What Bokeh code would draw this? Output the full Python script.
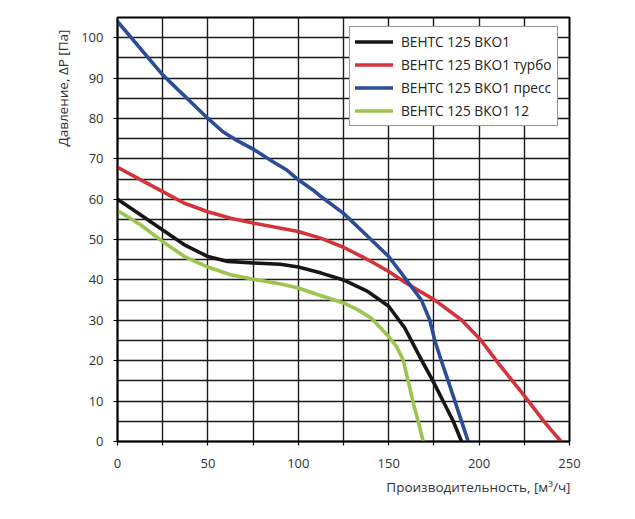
from bokeh.plotting import figure
from bokeh.models import (Range1d, SingleIntervalTicker, FixedTicker, Legend, LegendItem,
                          Title, LinearAxis)
from bokeh.embed import file_html
from bokeh.resources import INLINE

# data (flow m3/h, pressure Pa)
base_x = [0, 12.9, 25, 37, 50, 61, 75, 90, 100, 112.7, 125, 138.6, 150, 158.9, 168.1, 174.6, 180.2, 185.7, 190.3]
base_y = [60, 56.1, 52.4, 48.7, 45.8, 44.6, 44.2, 43.9, 43.2, 41.7, 40, 37.1, 33.5, 28.1, 20.2, 14.9, 9.9, 5.0, 0]

turbo_x = [0, 12.9, 25, 37, 50, 62.6, 75, 90.4, 100, 112.7, 125, 138.6, 150, 159.8, 175.5, 190.3, 200.8, 210.6, 225.4, 236.5, 245.3]
turbo_y = [67.9, 64.8, 61.9, 59, 56.9, 55.3, 54.1, 52.8, 52, 50.3, 48.1, 45, 42.1, 39.2, 35, 30.1, 25.2, 19.4, 11.1, 4.6, 0]

press_x = [0, 25, 50, 58.3, 65.5, 75, 86, 93.4, 100, 108.1, 112.7, 125, 138.6, 150, 157, 159.8, 168.1, 172.7, 175.5, 179.1, 182.9, 186.6, 190.3, 194]
press_y = [104, 90.8, 80, 76.7, 74.7, 72.4, 69.3, 67.3, 64.8, 62.3, 60.6, 56.5, 50.7, 45.8, 41.7, 40, 35, 30.1, 25, 20, 15, 10, 5, 0]

v12_x = [0, 12.9, 25, 37, 50, 62.6, 75, 90.4, 100, 112.7, 125, 133, 140.4, 150, 154.3, 158, 160.8, 163.6, 166.3, 169.1]
v12_y = [57.2, 53.6, 49.5, 45.8, 43.2, 41.3, 40.2, 39, 38, 36.1, 34.3, 32.6, 30.5, 26, 23.5, 20.2, 14.9, 9.5, 5.0, 0]

names = ["ВЕНТС 125 ВКО1", "ВЕНТС 125 ВКО1 турбо", "ВЕНТС 125 ВКО1 пресс", "ВЕНТС 125 ВКО1 12"]
colors = ["#161616", "#d5333a", "#2c4c97", "#9cc44e"]

x_ticks = [0, 25, 50, 75, 100, 125, 150, 175, 200, 225, 250]
x_labels = {0: "0", 25: "", 50: "50", 75: "", 100: "100", 125: "", 150: "150", 175: "", 200: "200", 225: "", 250: "250"}
y_ticks = [0, 10, 20, 30, 40, 50, 60, 70, 80, 90, 100]

FONT = "Open Sans"

p = figure(frame_width=452, frame_height=424, output_backend="svg", toolbar_location=None,
           x_range=Range1d(0, 250), y_range=Range1d(0, 105),
           min_border_left=117, min_border_top=17, min_border_right=40, min_border_bottom=70,
           x_axis_location=None, y_axis_location=None)
p.background_fill_color = "white"
p.border_fill_color = "white"
p.outline_line_color = "black"
p.outline_line_width = 2

xaxis = LinearAxis(ticker=FixedTicker(ticks=x_ticks), major_label_overrides=x_labels)
yaxis = LinearAxis(ticker=FixedTicker(ticks=y_ticks))
for ax in (xaxis, yaxis):
    ax.axis_line_color = "black"
    ax.axis_line_width = 1.5
    ax.major_tick_line_color = "black"
    ax.major_tick_line_width = 1.2
    ax.major_tick_in = 0
    ax.major_tick_out = 4
    ax.minor_tick_line_color = None
    ax.major_label_text_font = FONT
    ax.major_label_text_font_size = "13px"
    ax.major_label_text_color = "#333333"
xaxis.major_label_standoff = 13
yaxis.major_label_standoff = 10
p.add_layout(xaxis, "below")
p.add_layout(yaxis, "left")

p.xgrid.ticker = SingleIntervalTicker(interval=25)
p.ygrid.ticker = SingleIntervalTicker(interval=5)
p.xgrid.grid_line_color = "#1a1a1a"
p.ygrid.grid_line_color = "#1a1a1a"
p.xgrid.grid_line_width = 1.4
p.ygrid.grid_line_width = 1.4

series = [(base_x, base_y), (turbo_x, turbo_y), (press_x, press_y), (v12_x, v12_y)]
renderers = []
for (xs, ys), c in zip(series, colors):
    r = p.line(xs, ys, line_color=c, line_width=3.6, line_join="round", line_cap="round")
    renderers.append(r)

legend = Legend(items=[LegendItem(label=n, renderers=[r]) for n, r in zip(names, renderers)],
                location=(232, 315))
legend.label_text_font = FONT
legend.label_text_font_size = "13.7px"
legend.label_text_color = "#222222"
legend.border_line_color = "#333333"
legend.border_line_width = 1
legend.background_fill_color = "white"
legend.background_fill_alpha = 1
legend.glyph_width = 38
legend.glyph_height = 19
legend.label_height = 19
legend.spacing = 4
legend.padding = 5
legend.margin = 0
legend.label_standoff = 8
p.add_layout(legend, "center")

xtitle = Title(text="Производительность, [м³/ч]", align="right", text_font=FONT,
               text_font_size="13.5px", text_font_style="normal", text_color="#333333",
               standoff=10, offset=-1)
ytitle = Title(text="Давление, ΔP [Па]", align="right", text_font=FONT,
               text_font_size="13.5px", text_font_style="normal", text_color="#333333",
               standoff=14, offset=12)
p.add_layout(xtitle, "below")
p.add_layout(ytitle, "left")

open("out.html", "w").write(file_html(p, INLINE))
